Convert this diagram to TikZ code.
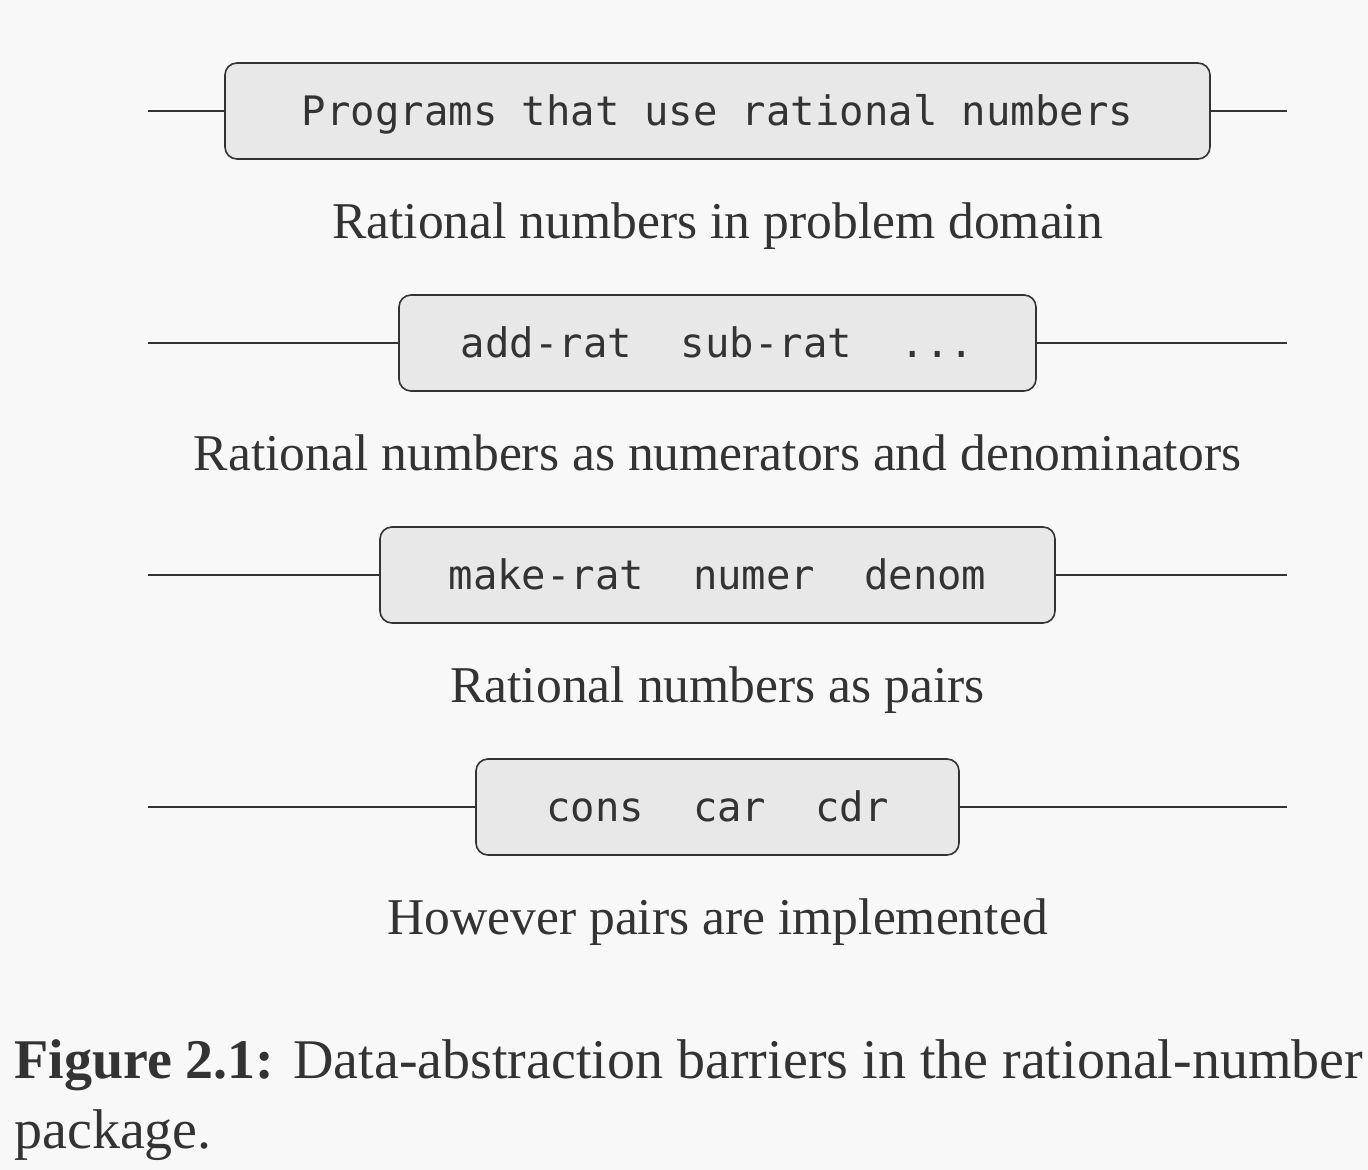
\documentclass[tikz,border=0pt]{standalone}
\usepackage{fontspec}
\setmainfont{Liberation Serif}
\setmonofont{DejaVu Sans Mono}
\definecolor{pagebg}{HTML}{F8F8F8}
\definecolor{boxfill}{HTML}{E8E8E8}
\definecolor{ink}{HTML}{333333}
\tikzstyle{barrier} = [rectangle, rounded corners=6pt, minimum height=48pt, text height=14.8pt, text depth=0pt, draw=ink, line width=0.8pt, fill=boxfill, text=ink, font=\ttfamily\fontsize{20.3}{24}\selectfont]
\tikzstyle{level} = [text height=17.5pt, text depth=5.6pt, text=ink, font=\fontsize{25.8}{30}\selectfont]
\tikzstyle{wall} = [draw=ink, line width=0.8pt]

\begin{document}
\begin{tikzpicture}[x=0.5pt, y=-0.5pt, node distance=58pt]
	\useasboundingbox (0,0) rectangle (1368,1170);
	\fill[pagebg] (0,0) rectangle (1368,1170);
	\coordinate (lft) at (148,111);
	\coordinate (rgt) at (1287,111);

	\node (B1) [barrier, minimum width=492.5pt] at (717.5,111) {Programs that use rational numbers};
	\node (L1) [level, below of = B1] {Rational numbers in problem domain};
	\node (B2) [barrier, minimum width=318.5pt, below of = L1] {add-rat~~sub-rat~~...};
	\node (L2) [level, below of = B2] {Rational numbers as numerators and denominators};
	\node (B3) [barrier, minimum width=337.5pt, below of = L2] {make-rat~~numer~~denom};
	\node (L3) [level, below of = B3] {Rational numbers as pairs};
	\node (B4) [barrier, minimum width=241.5pt, below of = L3] {cons~~car~~cdr};
	\node (L4) [level, below of = B4] {However pairs are implemented};

	\node (cap) [anchor=base west, inner sep=0pt, align=left, text=ink, font=\fontsize{28}{35}\selectfont] at (14,1148) {\textbf{Figure 2.1:} Data-abstraction barriers in the rational-number\\package.};

				\draw [wall] (lft |- B1) -- (B1);
				\draw [wall] (B1) -- (rgt |- B1);
				\draw [wall] (lft |- B2) -- (B2);
				\draw [wall] (B2) -- (rgt |- B2);
				\draw [wall] (lft |- B3) -- (B3);
				\draw [wall] (B3) -- (rgt |- B3);
				\draw [wall] (lft |- B4) -- (B4);
				\draw [wall] (B4) -- (rgt |- B4);
\end{tikzpicture}
\end{document}
